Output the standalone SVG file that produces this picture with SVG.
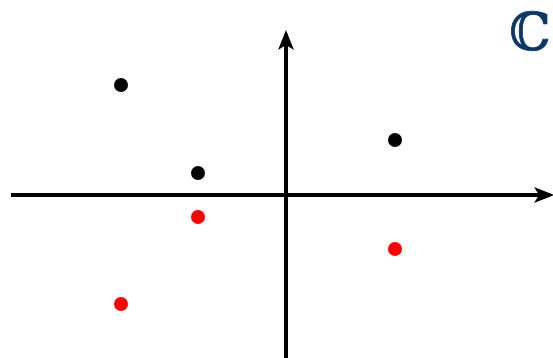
<svg xmlns="http://www.w3.org/2000/svg" width="553" height="358" viewBox="0 0 553 358">
<style>
.axis{stroke:#000;stroke-width:4;fill:none}
.pt{fill:#000}
.cj{fill:#ff0000}
</style>
<defs>
<marker id="ah" viewBox="0 0 20 16" refX="16" refY="8" markerWidth="20" markerHeight="16" markerUnits="userSpaceOnUse" orient="auto">
<path d="M0,0 L20,8 L0,16 L5,8 Z" fill="#000"/>
</marker>
</defs>
<g id="connectors">
<line class="axis" x1="11" y1="195" x2="550" y2="195" marker-end="url(#ah)"/>
<line class="axis" x1="286" y1="358" x2="286" y2="34" marker-end="url(#ah)"/>
</g>
<g id="p1"><circle class="pt" cx="121" cy="85" r="7"/></g>
<g id="p2"><circle class="pt" cx="198" cy="173" r="7"/></g>
<g id="p3"><circle class="pt" cx="395" cy="140" r="7"/></g>
<g id="c1"><circle class="cj" cx="121" cy="304" r="7"/></g>
<g id="c2"><circle class="cj" cx="198" cy="217" r="7"/></g>
<g id="c3"><circle class="cj" cx="395" cy="249" r="7"/></g>
<g id="label"><text x="530" y="50" text-anchor="middle" font-family="DejaVu Serif, serif" font-size="52" fill="#0b3668" stroke="#0b3668" stroke-width="0.8">ℂ</text></g>
</svg>
